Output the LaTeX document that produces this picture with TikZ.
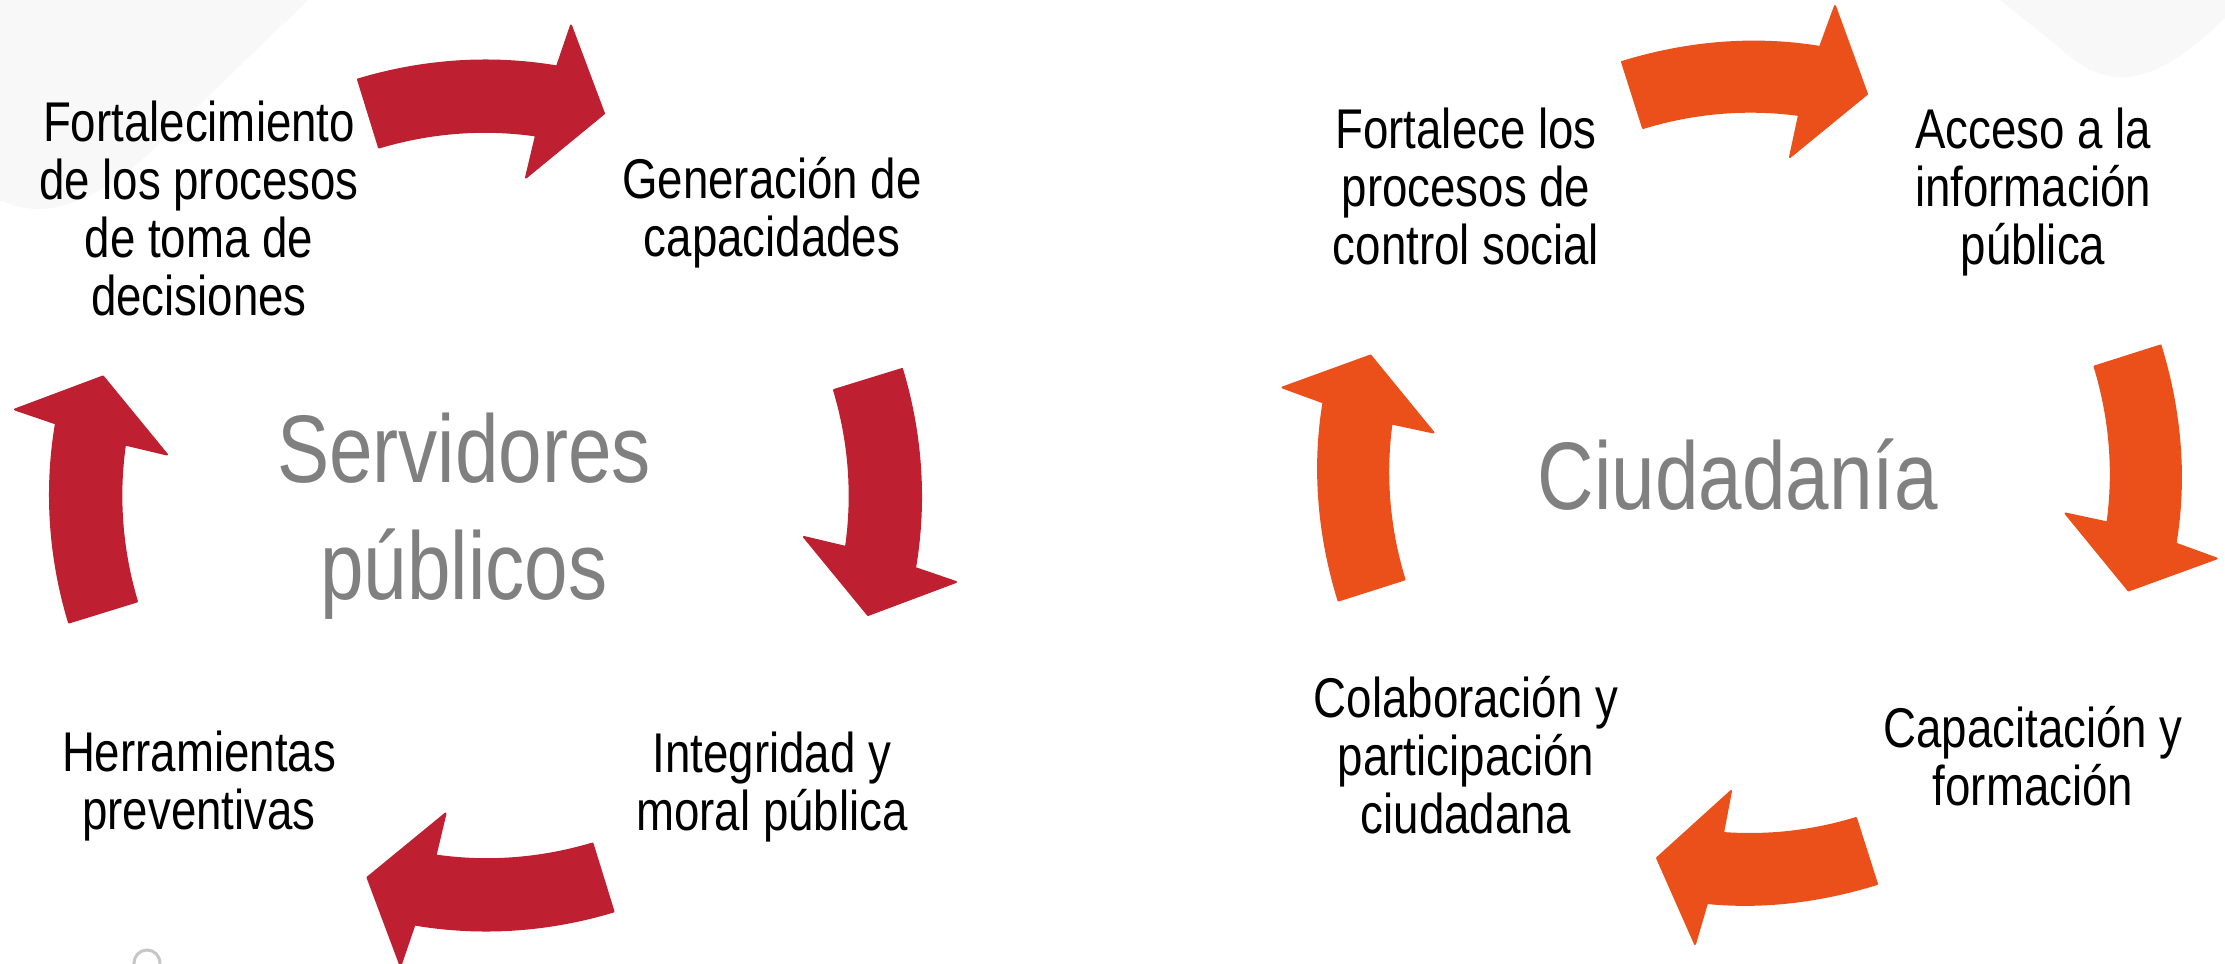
\documentclass[tikz,border=0pt]{standalone}
\usepackage{fontspec}
\setmainfont[FakeStretch=0.815]{Liberation Sans}
\definecolor{redarrow}{HTML}{BF2031}
\definecolor{orangearrow}{HTML}{EB501B}
\definecolor{blobgray}{HTML}{F8F8F8}
\definecolor{titlegray}{HTML}{808080}
\tikzset{
  lbl/.style={align=center,inner sep=0pt,text=black,font=\fontsize{28}{29}\selectfont},
  ttl/.style={align=center,inner sep=0pt,text=titlegray,font=\fontsize{48}{58.5}\selectfont},
  bend/.style={fill=#1,draw=#1,line width=1pt,line join=round}
}
\begin{document}
\begin{tikzpicture}[x=0.5pt,y=-0.5pt]
\path[use as bounding box] (0,0) rectangle (2225,963);
\clip (0,0) rectangle (2225,963);
% faint background shapes
\fill[blobgray] (0,0) -- (308,0) -- (156,147) .. controls (105,195) and (50,225) .. (0,200) -- cycle;
\fill[blobgray] (2000,0) -- (2060,48) .. controls (2105,90) and (2150,92) .. (2225,18) -- (2225,0) -- cycle;
\draw[color=gray!45,line width=1.5pt] (147,963) circle[radius=13];
% red arrows
\foreach \r/\cx/\cy in {0/484/495.5,-90/486/495,-180/487.5/495.5,-270/485/496.5}{
  \begin{scope}[shift={(\cx,\cy)},rotate=\r]
    \draw[bend=redarrow] (-126,-416) .. controls (-61.5,-435.5) and (6.5,-440.3) .. (73,-429)
      -- (87,-470) -- (120,-382) -- (42,-318) -- (52,-360)
      .. controls (-0.6,-367.6) and (-54.2,-363.3) .. (-105,-348) -- cycle;
  \end{scope}
}
% orange arrows
\foreach \r in {0,-90,-270}{
  \begin{scope}[shift={(1749.5,473)},rotate=\r]
    \draw[bend=orangearrow] (-127.5,-411) .. controls (-63.5,-430.8) and (4.2,-437) .. (70.5,-426)
      -- (85.5,-467) -- (117.5,-379) -- (40.5,-316) -- (49.5,-358)
      .. controls (-2.8,-365.2) and (-56.1,-360.5) .. (-106.5,-345) -- cycle;
  \end{scope}
}
\begin{scope}[shift={(1749.5,473)}]
  \draw[bend=orangearrow] (127.5,411) .. controls (72.6,428) and (14.9,435.7) .. (-42.5,430)
    -- (-54.5,471) -- (-92.5,385) -- (-18.5,318) -- (-26.5,360)
    .. controls (18.4,363.3) and (63.5,358.3) .. (106.5,345) -- cycle;
\end{scope}
% left cycle text
\node[ttl] (srv) at (464,516) {Servidores\\públicos};
\node[lbl] (fort) at (199,208.5) {Fortalecimiento\\de los procesos\\de toma de\\decisiones};
\node[lbl] (gen) at (772,213) {Generación de\\capacidades};
\node[lbl] (int) at (772,787) {Integridad y\\moral pública};
\node[lbl] (her) at (199,786) {Herramientas\\preventivas};
% right cycle text
\node[ttl] (ciu) at (1738,475) {Ciudadanía};
\node[lbl] (fsoc) at (1466,186.5) {Fortalece los\\procesos de\\control social};
\node[lbl] (acc) at (2033,192) {Acceso a la\\información\\pública};
\node[lbl] (cap) at (2033,756) {Capacitación y\\formación};
\node[lbl] (col) at (1466,755) {Colaboración y\\participación\\ciudadana};
\end{tikzpicture}
\end{document}
